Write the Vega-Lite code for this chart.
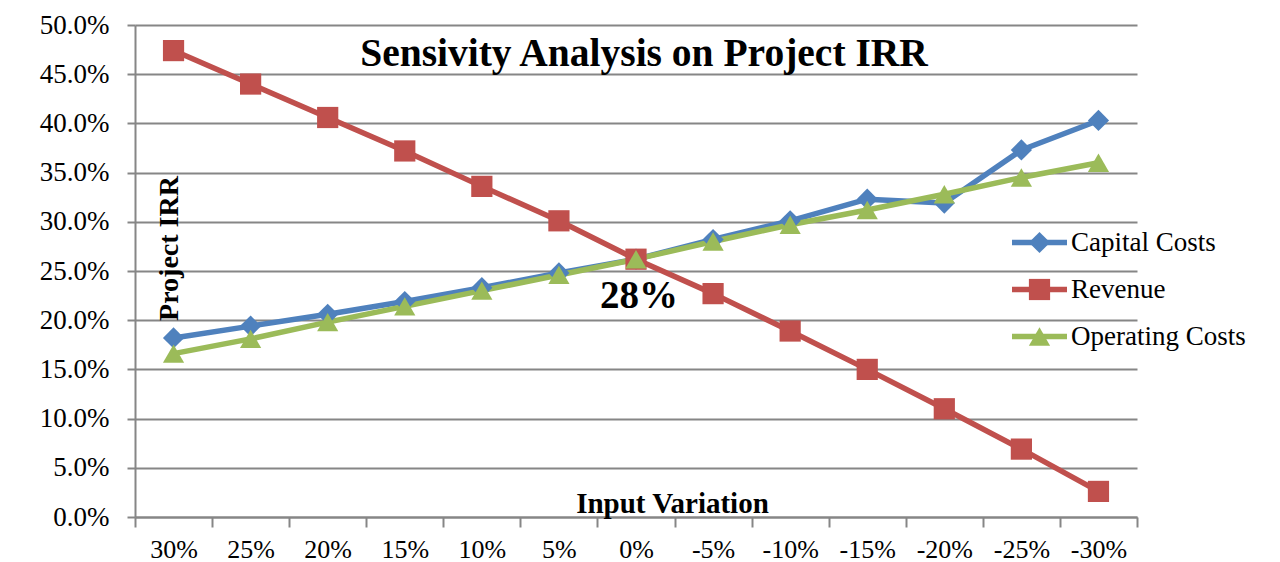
{
  "$schema": "https://vega.github.io/schema/vega-lite/v6.json",
  "width": 1002,
  "height": 492,
  "autosize": {"type": "none"},
  "padding": {"left": 135, "top": 25, "right": 143, "bottom": 45},
  "background": "white",
  "config": {
    "view": {"stroke": null},
    "font": "Liberation Serif"
  },
  "title": {
    "text": "Sensivity Analysis on Project IRR",
    "font": "Liberation Serif",
    "fontSize": 39.5,
    "fontWeight": "bold",
    "color": "black",
    "anchor": "middle",
    "baseline": "alphabetic",
    "offset": -94,
    "dx": 8
  },
  "datasets": {
    "irr": [
      {"variation": "30%", "series": "Capital Costs", "irr": 0.182},
      {"variation": "25%", "series": "Capital Costs", "irr": 0.194},
      {"variation": "20%", "series": "Capital Costs", "irr": 0.206},
      {"variation": "15%", "series": "Capital Costs", "irr": 0.219},
      {"variation": "10%", "series": "Capital Costs", "irr": 0.233},
      {"variation": "5%", "series": "Capital Costs", "irr": 0.248},
      {"variation": "0%", "series": "Capital Costs", "irr": 0.262},
      {"variation": "-5%", "series": "Capital Costs", "irr": 0.282},
      {"variation": "-10%", "series": "Capital Costs", "irr": 0.301},
      {"variation": "-15%", "series": "Capital Costs", "irr": 0.323},
      {"variation": "-20%", "series": "Capital Costs", "irr": 0.319},
      {"variation": "-25%", "series": "Capital Costs", "irr": 0.373},
      {"variation": "-30%", "series": "Capital Costs", "irr": 0.403},
      {"variation": "30%", "series": "Revenue", "irr": 0.474},
      {"variation": "25%", "series": "Revenue", "irr": 0.440},
      {"variation": "20%", "series": "Revenue", "irr": 0.406},
      {"variation": "15%", "series": "Revenue", "irr": 0.372},
      {"variation": "10%", "series": "Revenue", "irr": 0.336},
      {"variation": "5%", "series": "Revenue", "irr": 0.301},
      {"variation": "0%", "series": "Revenue", "irr": 0.262},
      {"variation": "-5%", "series": "Revenue", "irr": 0.227},
      {"variation": "-10%", "series": "Revenue", "irr": 0.189},
      {"variation": "-15%", "series": "Revenue", "irr": 0.150},
      {"variation": "-20%", "series": "Revenue", "irr": 0.110},
      {"variation": "-25%", "series": "Revenue", "irr": 0.069},
      {"variation": "-30%", "series": "Revenue", "irr": 0.026},
      {"variation": "30%", "series": "Operating Costs", "irr": 0.166},
      {"variation": "25%", "series": "Operating Costs", "irr": 0.181},
      {"variation": "20%", "series": "Operating Costs", "irr": 0.198},
      {"variation": "15%", "series": "Operating Costs", "irr": 0.214},
      {"variation": "10%", "series": "Operating Costs", "irr": 0.230},
      {"variation": "5%", "series": "Operating Costs", "irr": 0.246},
      {"variation": "0%", "series": "Operating Costs", "irr": 0.262},
      {"variation": "-5%", "series": "Operating Costs", "irr": 0.280},
      {"variation": "-10%", "series": "Operating Costs", "irr": 0.297},
      {"variation": "-15%", "series": "Operating Costs", "irr": 0.312},
      {"variation": "-20%", "series": "Operating Costs", "irr": 0.328},
      {"variation": "-25%", "series": "Operating Costs", "irr": 0.345},
      {"variation": "-30%", "series": "Operating Costs", "irr": 0.360}
    ],
    "note": [
      {"variation": "0%", "irr": 0.212, "label": "28%"}
    ]
  },
  "layer": [
    {
      "data": {"name": "irr"},
      "mark": {"type": "line", "strokeWidth": 5.5, "strokeJoin": "round", "strokeCap": "round"},
      "encoding": {
        "x": {
          "field": "variation",
          "type": "ordinal",
          "bandPosition": 0.5,
          "scale": {
            "type": "band",
            "paddingInner": 0,
            "paddingOuter": 0,
            "domain": ["30%", "25%", "20%", "15%", "10%", "5%", "0%", "-5%", "-10%", "-15%", "-20%", "-25%", "-30%"]
          },
          "axis": {
            "title": "Input Variation",
            "titleFont": "Liberation Serif",
            "titleFontSize": 29,
            "titleFontWeight": "bold",
            "titleColor": "black",
            "titleX": 537,
            "titleY": -5,
            "titleAlign": "center",
            "titleBaseline": "alphabetic",
            "labelAngle": 0,
            "labelFont": "Liberation Serif",
            "labelFontSize": 26,
            "labelColor": "black",
            "labelPadding": 9,
            "tickBand": "extent",
            "tickSize": 10,
            "tickColor": "#868686",
            "tickWidth": 2,
            "domainColor": "#868686",
            "domainWidth": 2,
            "grid": false
          }
        },
        "y": {
          "field": "irr",
          "type": "quantitative",
          "scale": {"domain": [0, 0.5], "nice": false},
          "axis": {
            "title": "Project IRR",
            "titleFont": "Liberation Serif",
            "titleFontSize": 28,
            "titleFontWeight": "bold",
            "titleColor": "black",
            "titleAngle": 270,
            "titleX": 42,
            "titleY": 223,
            "titleAlign": "center",
            "titleBaseline": "alphabetic",
            "values": [0, 0.05, 0.1, 0.15, 0.2, 0.25, 0.3, 0.35, 0.4, 0.45, 0.5],
            "format": ".1%",
            "labelFont": "Liberation Serif",
            "labelFontSize": 27,
            "labelColor": "black",
            "labelPadding": 18,
            "tickSize": 8,
            "tickColor": "#868686",
            "tickWidth": 2,
            "domainColor": "#868686",
            "domainWidth": 2,
            "grid": true,
            "gridColor": "#868686",
            "gridWidth": 1.8
          }
        },
        "stroke": {
          "field": "series",
          "type": "nominal",
          "sort": ["Capital Costs", "Revenue", "Operating Costs"],
          "scale": {
            "range": ["#4F81BD", "#C0504D", "#9BBB59"]
          },
          "legend": {
            "orient": "none",
            "legendX": 874,
            "legendY": 194,
            "title": null,
            "symbolType": "stroke",
            "symbolSize": 3025,
            "symbolStrokeWidth": 5.5,
            "labelFont": "Liberation Serif",
            "labelFontSize": 27,
            "labelColor": "black",
            "labelOffset": 1,
            "labelLimit": 400,
            "clipHeight": 47,
            "rowPadding": 0,
            "padding": 0
          }
        }
      }
    },
    {
      "data": {"name": "irr"},
      "mark": {"type": "point", "filled": true, "opacity": 1, "strokeWidth": 0},
      "encoding": {
        "x": {"field": "variation", "type": "ordinal", "bandPosition": 0.5},
        "y": {"field": "irr", "type": "quantitative"},
        "fill": {
          "field": "series",
          "type": "nominal",
          "scale": {
            "domain": ["Capital Costs", "Revenue", "Operating Costs"],
            "range": ["#4F81BD", "#C0504D", "#9BBB59"]
          },
          "legend": {
            "orient": "none",
            "legendX": 891,
            "legendY": 194,
            "title": null,
            "symbolSize": 450,
            "symbolStrokeWidth": 0,
            "symbolOpacity": 1,
            "labelFont": "Liberation Serif",
            "labelFontSize": 27,
            "labelExpr": "''",
            "clipHeight": 47,
            "rowPadding": 0,
            "padding": 0
          }
        },
        "shape": {
          "field": "series",
          "type": "nominal",
          "scale": {
            "domain": ["Capital Costs", "Revenue", "Operating Costs"],
            "range": ["diamond", "square", "triangle-up"]
          },
          "legend": {
            "orient": "none",
            "legendX": 891,
            "legendY": 194,
            "title": null,
            "symbolSize": 450,
            "symbolStrokeWidth": 0,
            "symbolOpacity": 1,
            "labelFont": "Liberation Serif",
            "labelFontSize": 27,
            "labelExpr": "''",
            "clipHeight": 47,
            "rowPadding": 0,
            "padding": 0
          }
        },
        "size": {"value": 450}
      }
    },
    {
      "data": {"name": "note"},
      "mark": {"type": "text", "font": "Liberation Serif", "fontSize": 39, "fontWeight": "bold", "color": "black", "baseline": "alphabetic", "align": "center", "dx": 3},
      "encoding": {
        "x": {"field": "variation", "type": "ordinal", "bandPosition": 0.5},
        "y": {"field": "irr", "type": "quantitative"},
        "text": {"field": "label"}
      }
    }
  ]
}
